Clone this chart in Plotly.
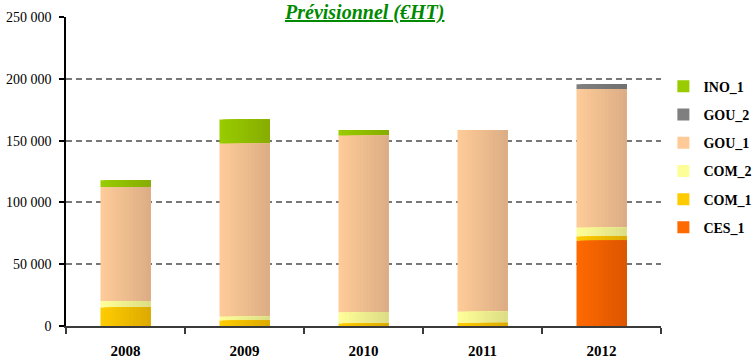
import numpy as np
import plotly.graph_objects as go

# Forecast budget (EUR excl. VAT) by year and budget line
years = ["2008", "2009", "2010", "2011", "2012"]
series_names = ["CES_1", "COM_1", "COM_2", "GOU_1", "GOU_2", "INO_1"]
CES_1 = [0, 0, 0, 0, 69000]
COM_1 = [15000, 4500, 2000, 2500, 3500]
COM_2 = [5000, 3000, 9000, 9000, 7000]
GOU_1 = [92500, 140000, 143000, 147000, 112000]
GOU_2 = [0, 0, 0, 0, 4000]
INO_1 = [5500, 19500, 4500, 0, 0]

y_tickvals = [0, 50000, 100000, 150000, 200000, 250000]
y_ticktext = ["0", "50\u00a0000", "100\u00a0000", "150\u00a0000", "200\u00a0000", "250\u00a0000"]

# light (left edge) and shaded (right edge) colour of each series
shades = {
    "CES_1": ("#ff6a00", "#dc5500"),
    "COM_1": ("#ffcc00", "#dcaa00"),
    "COM_2": ("#ffff99", "#dcdc85"),
    "GOU_1": ("#ffcc99", "#dcad84"),
    "GOU_2": ("#808080", "#707070"),
    "INO_1": ("#99cc00", "#86ad00"),
}

values = {"CES_1": CES_1, "COM_1": COM_1, "COM_2": COM_2,
          "GOU_1": GOU_1, "GOU_2": GOU_2, "INO_1": INO_1}


def hex_to_rgb(h):
    h = h.lstrip("#")
    return np.array([int(h[i:i + 2], 16) for i in (0, 2, 4)], dtype=float)


def mix(c1, c2, t):
    r, g, b = (hex_to_rgb(c1) * (1 - t) + hex_to_rgb(c2) * t).round().astype(int)
    return f"rgb({r},{g},{b})"


# stack bases, bottom series first
bases = {}
running = np.zeros(len(years))
for name in series_names:
    bases[name] = running.copy()
    running = running + np.array(values[name], dtype=float)

bar_width = 0.42
n_strips = 14
step = bar_width / n_strips

fig = go.Figure()
# top series added first so the legend lists it first
for name in reversed(series_names):
    vals = np.array(values[name], dtype=float)
    light, dark = shades[name]
    # horizontal shading: each strip runs to the right edge, later ones on top
    for k in range(n_strips):
        fig.add_trace(go.Bar(
            x=years,
            y=vals,
            base=bases[name],
            name=name,
            legendgroup=name,
            showlegend=(k == 0),
            offset=-bar_width / 2 + k * step,
            width=bar_width - k * step,
            marker=dict(color=mix(light, dark, (k + 0.5) / n_strips), line=dict(width=0)),
            hoverinfo="skip" if k else "x+y+name",
        ))

serif = "Liberation Serif"

fig.update_layout(
    width=754,
    height=360,
    barmode="overlay",
    paper_bgcolor="white",
    plot_bgcolor="white",
    margin=dict(l=66, r=93, t=17, b=34, autoexpand=False),
    showlegend=True,
    legend=dict(
        traceorder="grouped",
        tracegroupgap=7,
        x=1.004,
        xanchor="left",
        y=0.826,
        yanchor="top",
        bgcolor="white",
        itemwidth=30,
        font=dict(family=serif, size=14, color="black", weight="bold"),
    ),
    xaxis=dict(
        type="category",
        automargin=False,
        showline=True,
        linecolor="#3a3a3a",
        linewidth=2,
        ticks="outside",
        tickson="boundaries",
        ticklen=6,
        tickcolor="#3a3a3a",
        tickwidth=2,
        ticklabelstandoff=10,
        tickfont=dict(family=serif, size=15, color="black", weight="bold"),
        showgrid=False,
        range=[-0.5, 4.5],
    ),
    yaxis=dict(
        automargin=False,
        range=[0, 250000],
        tickvals=y_tickvals,
        ticktext=y_ticktext,
        showline=True,
        linecolor="black",
        linewidth=1.5,
        ticks="outside",
        ticklen=5,
        tickcolor="black",
        tickwidth=1.5,
        ticklabelstandoff=5,
        tickfont=dict(family=serif, size=14, color="black"),
        showgrid=True,
        gridcolor="#777777",
        gridwidth=1.5,
        griddash="6px,4px",
        zeroline=False,
    ),
    annotations=[dict(
        text="Prévisionnel (€HT)",
        xref="paper", yref="paper",
        x=0.5, y=1.014,
        xanchor="center", yanchor="middle",
        showarrow=False,
        bgcolor="white",
        borderpad=1,
        font=dict(family=serif, size=20, color="#008a00", weight="bold",
                  style="italic", lineposition="under"),
    )],
)

fig.write_html("out.html")
